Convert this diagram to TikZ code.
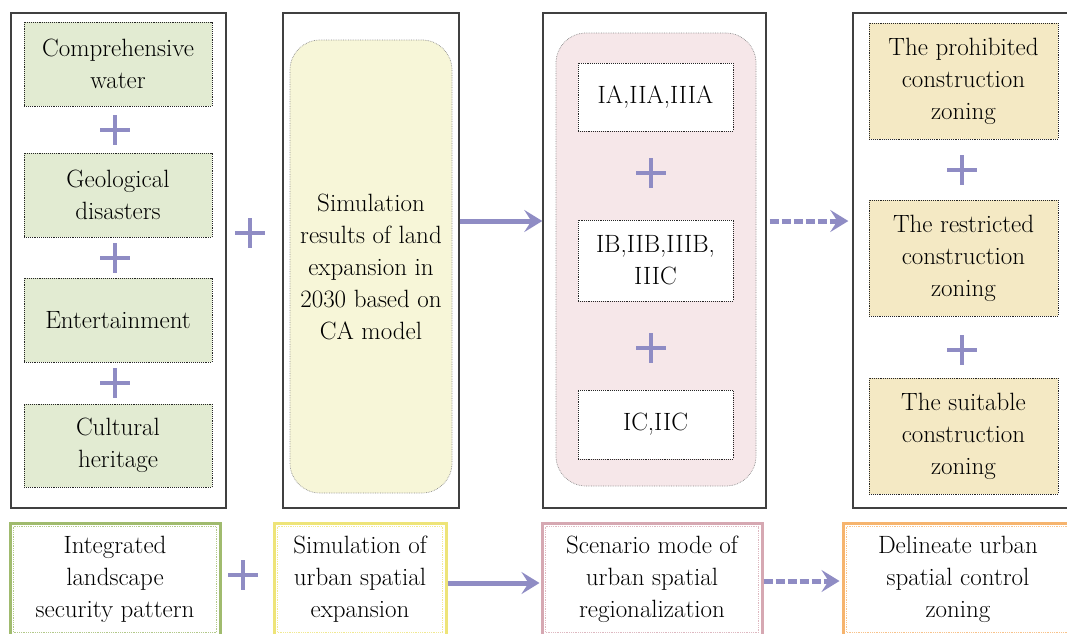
\documentclass[tikz,border=0pt]{standalone}
\usepackage{tikz}
\usetikzlibrary{positioning, arrows.meta}

\definecolor{landgreen}{RGB}{226,235,210}
\definecolor{simyellow}{RGB}{247,246,216}
\definecolor{scenpink}{RGB}{246,231,233}
\definecolor{zonetan}{RGB}{244,233,196}
\definecolor{plusc}{RGB}{143,140,196}
\definecolor{edgegreen}{RGB}{160,187,110}
\definecolor{edgeyellow}{RGB}{238,228,120}
\definecolor{edgepink}{RGB}{214,168,178}
\definecolor{edgeorange}{RGB}{246,180,110}

\tikzset{
	txt/.style={align=center, font=\fontsize{25}{32}\selectfont, inner sep=0pt},
	column/.style={draw=black!75, line width=1.4pt, inner sep=0pt},
	factor/.style={txt, draw=black!85, densely dotted, line width=0.9pt},
	roundbox/.style={txt, draw=black!45, densely dotted, line width=0.7pt, rounded corners=30pt},
	stage/.style={txt, line width=3pt},
	plusline/.style={draw=plusc, line width=4pt},
	flow/.style={draw=plusc, line width=5pt, -{Stealth[length=18pt, width=22pt, inset=7pt]}},
	dflow/.style={flow, dash pattern=on 9pt off 3pt},
}

\begin{document}
\begin{tikzpicture}[x=1pt, y=-1pt]
	\useasboundingbox (0,0) rectangle (1067,633);
	\clip (0,0) rectangle (1067,633);

	% column 1: landscape security factors
	\node (c1) [column, minimum width=215pt, minimum height=495pt] at (118.5,260.5) {};
	\node (g1) [factor, fill=landgreen, minimum width=188pt, minimum height=84pt] at (118,64) {Comprehensive\\water};
	\node (g2) [factor, fill=landgreen, minimum width=188pt, minimum height=84pt] at (118,195) {Geological\\disasters};
	\node (g3) [factor, fill=landgreen, minimum width=188pt, minimum height=84pt] at (118,320) {Entertainment};
	\node (g4) [factor, fill=landgreen, minimum width=188pt, minimum height=83pt] at (118,445.5) {Cultural\\heritage};

	% column 2: CA simulation
	\node (c2) [column, minimum width=176pt, minimum height=495pt] at (371,260.5) {};
	\node (sim) [roundbox, fill=simyellow, minimum width=162pt, minimum height=453pt] at (371,266.5)
		{Simulation\\results of land\\expansion in\\2030 based on\\CA model};

	% column 3: scenario modes
	\node (c3) [column, minimum width=223pt, minimum height=495pt] at (654.5,260.5) {};
	\node (scen) [roundbox, fill=scenpink, minimum width=200pt, minimum height=453pt] at (656,259.5) {};
	\node (w1) [factor, fill=white, minimum width=155pt, minimum height=68pt] at (655.5,97) {IA,IIA,IIIA};
	\node (w2) [factor, fill=white, minimum width=155pt, minimum height=81pt] at (655.5,260.5) {IB,IIB,IIIB,\\IIIC};
	\node (w3) [factor, fill=white, minimum width=155pt, minimum height=69pt] at (655.5,424.5) {IC,IIC};

	% column 4: control zonings
	\node (c4) [column, minimum width=222pt, minimum height=495pt] at (964,260.5) {};
	\node (t1) [factor, fill=zonetan, minimum width=189pt, minimum height=116pt] at (963.5,81) {The prohibited\\construction\\zoning};
	\node (t2) [factor, fill=zonetan, minimum width=189pt, minimum height=116pt] at (963.5,258) {The restricted\\construction\\zoning};
	\node (t3) [factor, fill=zonetan, minimum width=189pt, minimum height=116pt] at (963.5,436) {The suitable\\construction\\zoning};

	% bottom row
	\node (b1) [stage, draw=edgegreen, minimum width=210pt, minimum height=113pt] at (115,579.5) {Integrated\\landscape\\security pattern};
	\node (b2) [stage, draw=edgeyellow, minimum width=172pt, minimum height=113pt] at (360,579.5) {Simulation of\\urban spatial\\expansion};
	\node (b3) [stage, draw=edgepink, minimum width=220pt, minimum height=113pt] at (652,579.5) {Scenario mode of\\urban spatial\\regionalization};
	\node (b4) [stage, draw=edgeorange, minimum width=230pt, minimum height=113pt] at (958,579.5) {Delineate urban\\spatial control\\zoning};
	\foreach \n/\c in {b1/edgegreen, b2/edgeyellow, b3/edgepink, b4/edgeorange}
		\draw[\c!80, densely dotted, line width=0.8pt]
			([shift={(5pt,-5pt)}]\n.north west) rectangle ([shift={(-5pt,5pt)}]\n.south east);

	% plus signs
	\foreach \px/\py in {115/130, 115/258, 115/383, 250/233, 651/173, 651/348, 962/170, 962/350, 243/575}
		\draw[plusline] (\px-15,\py) -- (\px+15,\py) (\px,\py-15) -- (\px,\py+15);

	% arrows
	\draw[flow] ([yshift=39.5pt]c2.east) -- ([yshift=39.5pt]c3.west);
	\draw[dflow, shorten <=3pt, shorten >=4pt] ([yshift=39.5pt]c3.east) -- ([yshift=39.5pt]c4.west);
	\draw[flow, shorten >=1pt] ([yshift=-3.5pt]b2.east) -- ([yshift=-3.5pt]b3.west);
	\draw[dflow, shorten >=2pt] ([yshift=-1.5pt]b3.east) -- ([yshift=-1.5pt]b4.west);
\end{tikzpicture}
\end{document}
